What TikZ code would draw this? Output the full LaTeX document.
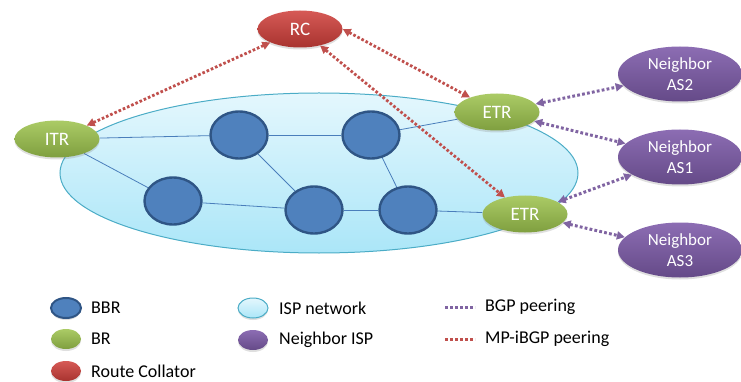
\documentclass[tikz,border=0pt]{standalone}
\usepackage{fontspec}
\setmainfont{Carlito}
\usetikzlibrary{shapes.geometric,arrows.meta,shadows}
\definecolor{rcTop}{HTML}{D65A56}
\definecolor{rcBot}{HTML}{A8332F}
\definecolor{brTop}{HTML}{ABCB66}
\definecolor{brBot}{HTML}{7F9F3F}
\definecolor{nbTop}{HTML}{8C6DB3}
\definecolor{nbBot}{HTML}{654A88}
\definecolor{bbrFill}{HTML}{4F81BD}
\definecolor{bbrLine}{HTML}{2F5585}
\definecolor{ispTop}{HTML}{E4F7FD}
\definecolor{ispBot}{HTML}{ABE6F8}
\definecolor{ispLine}{HTML}{4BACC6}
\definecolor{redDot}{HTML}{C0504D}
\definecolor{purDot}{HTML}{8064A2}
\definecolor{linkc}{HTML}{4A7EBB}
\pgfdeclarelayer{back}
\pgfdeclarelayer{mid}
\pgfsetlayers{back,mid,main}
\tikzset{
  oval/.style={ellipse, inner sep=0pt, text=white, font=\fontsize{19}{21}\selectfont,
    drop shadow={opacity=0.25, shadow xshift=0pt, shadow yshift=-2pt}},
  rcnode/.style={oval, top color=rcTop, bottom color=rcBot, minimum width=85pt, minimum height=37pt},
  brnode/.style={oval, top color=brTop, bottom color=brBot, minimum width=85pt, minimum height=37pt},
  nbnode/.style={oval, top color=nbTop, bottom color=nbBot, minimum width=124pt, minimum height=55pt,
    align=center, font=\fontsize{17}{21}\selectfont},
  bbrnode/.style={ellipse, inner sep=0pt, fill=bbrFill, draw=bbrLine, line width=2.4pt,
    minimum width=57pt, minimum height=47pt},
  link/.style={draw=linkc, line width=0.8pt},
  mpib/.style={draw=redDot, line width=2.8pt, dash pattern=on 2.6pt off 2pt,
    {Triangle[length=8pt,width=8pt]}-{Triangle[length=8pt,width=8pt]}},
  bgp/.style={draw=purDot, line width=3pt, dash pattern=on 2.8pt off 2.2pt,
    {Triangle[length=8pt,width=8pt]}-{Triangle[length=8pt,width=8pt]}},
  legtext/.style={anchor=west, inner sep=0pt, font=\fontsize{18}{20}\selectfont},
  legoval/.style={ellipse, inner sep=0pt, minimum width=30pt, minimum height=20pt,
    drop shadow={opacity=0.25, shadow xshift=0pt, shadow yshift=-2pt}}
}
\begin{document}
\begin{tikzpicture}[x=1pt,y=-1pt]
\useasboundingbox (0,0) rectangle (741,382);
% ISP network
\begin{pgfonlayer}{back}
\node[ellipse, inner sep=0pt, minimum width=518pt, minimum height=160pt,
  top color=ispTop, bottom color=ispBot, draw=ispLine, line width=1pt] (isp) at (319,173) {};
\end{pgfonlayer}
% routers
\node[rcnode] (rc) at (300,29) {RC};
\node[brnode] (itr) at (57,139) {ITR};
\node[brnode] (etr1) at (497,112) {ETR};
\node[brnode] (etr2) at (525,214) {ETR};
\node[nbnode] (as2) at (680,74) {Neighbor\\AS2};
\node[nbnode] (as1) at (680,157) {Neighbor\\AS1};
\node[nbnode] (as3) at (680,250) {Neighbor\\AS3};
% backbone
\node[bbrnode] (b1) at (239,135) {};
\node[bbrnode] (b2) at (371,135) {};
\node[bbrnode] (b3) at (173,201) {};
\node[bbrnode] (b4) at (314,210) {};
\node[bbrnode] (b5) at (408,210) {};
\begin{pgfonlayer}{mid}
\draw[link] (itr) -- (b1);
\draw[link] (itr) -- (b3);
\draw[link] (b1) -- (b2);
\draw[link] (b1) -- (b4);
\draw[link] (b3) -- (b4);
\draw[link] (b4) -- (b5);
\draw[link] (b2) -- (b5);
\draw[link] (b2) -- (etr1);
\draw[link] (b5) -- (etr2);
\end{pgfonlayer}
% peerings
\draw[mpib] (rc) -- (itr);
\draw[mpib] (rc.east) -- (etr1);
\draw[mpib] (rc) -- (etr2);
\draw[bgp] (etr1) -- (as2);
\draw[bgp] (etr1) -- (as1);
\draw[bgp] (etr2) -- (as1);
\draw[bgp] (etr2) -- (as3);
% legend
\node[legoval, fill=bbrFill, draw=bbrLine, line width=2pt] (lbbr) at (66,308) {};
\node[legtext] (tbbr) at (91,308) {BBR};
\node[legoval, top color=brTop, bottom color=brBot] (lbr) at (66,339) {};
\node[legtext] (tbr) at (91,339) {BR};
\node[legoval, top color=rcTop, bottom color=rcBot] (lrc) at (66,371) {};
\node[legtext] (trc) at (91,371) {Route Collator};
\node[legoval, top color=ispTop, bottom color=ispBot, draw=ispLine, line width=1pt] (lisp) at (253,308) {};
\node[legtext] (tisp) at (279,308) {ISP network};
\node[legoval, top color=nbTop, bottom color=nbBot] (lnb) at (253,340) {};
\node[legtext] (tnb) at (279,340) {Neighbor ISP};
\coordinate (g1) at (445,307);
\coordinate (g2) at (475,307);
\draw[draw=purDot, line width=3pt, dash pattern=on 2.8pt off 2.2pt] (g1) -- (g2);
\node[legtext] (tbgp) at (485,307) {BGP peering};
\coordinate (m1) at (445,339);
\coordinate (m2) at (475,339);
\draw[draw=redDot, line width=3pt, dash pattern=on 2.8pt off 2.2pt] (m1) -- (m2);
\node[legtext] (tmp) at (485,339) {MP-iBGP peering};
\end{tikzpicture}
\end{document}
